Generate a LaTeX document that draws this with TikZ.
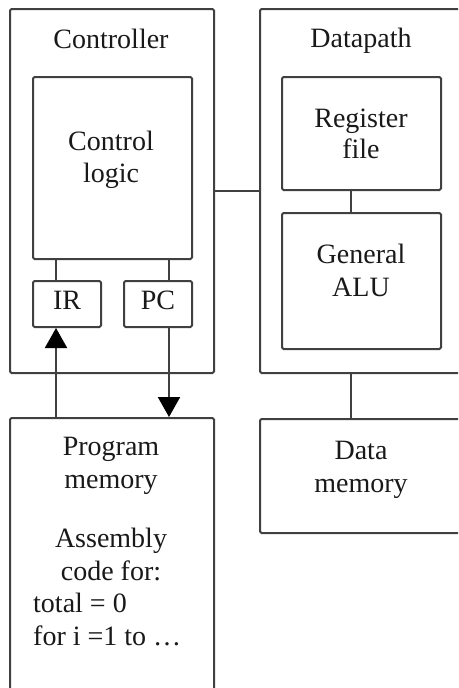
\documentclass[tikz,border=0pt]{standalone}
\usepackage{fontspec}
\setmainfont{Liberation Serif}
\usetikzlibrary{arrows.meta}
\begin{document}
\begin{tikzpicture}[x=1pt,y=-1pt,
  box/.style={draw=black!75, line width=2pt, rounded corners=1.5pt, inner sep=0pt},
  wire/.style={draw=black!75, line width=2pt},
  arr/.style={wire, -{Triangle[length=20pt,width=22pt,color=black]}},
  txt/.style={anchor=base, inner sep=0pt, text=black!90, font=\fontsize{28}{33}\selectfont},
  ltxt/.style={txt, anchor=base west}]
\useasboundingbox (0,0) rectangle (458,688);
\clip (0,0) rectangle (458,688);
\fill[white] (0,0) rectangle (458,688);
% outer boxes
\node[box, minimum width=204pt, minimum height=364pt] (ctrl) at (112,191) {};
\node[box, minimum width=210pt, minimum height=364pt] (dp) at (365,191) {};
\node[box, minimum width=204pt, minimum height=290pt] (pm) at (112,563) {};
\node[box, minimum width=210pt, minimum height=114pt] (dm) at (365,476) {};
% inner boxes
\node[box, minimum width=159pt, minimum height=182pt] (cl) at (112.5,168) {};
\node[box, minimum width=68pt, minimum height=46pt] (ir) at (67,304) {};
\node[box, minimum width=68pt, minimum height=46pt] (pc) at (158,304) {};
\node[box, minimum width=159pt, minimum height=113pt] (rf) at (361.5,133.5) {};
\node[box, minimum width=159pt, minimum height=136pt] (alu) at (361.5,281) {};
% texts
\node[txt] (ctrlT) at (111,48) {Controller};
\node[txt] (dpT) at (361,47) {Datapath};
\node[txt] (clA) at (111,150) {Control};
\node[txt] (clB) at (111,182) {logic};
\node[txt] (irT) at (67,309) {IR};
\node[txt] (pcT) at (158,309) {PC};
\node[txt] (rfA) at (361,127) {Register};
\node[txt] (rfB) at (361,158) {file};
\node[txt] (aluA) at (361,263) {General};
\node[txt] (aluB) at (361,296) {ALU};
\node[txt] (dmA) at (361,459) {Data};
\node[txt] (dmB) at (361,492) {memory};
\node[txt] (pmA) at (111,455) {Program};
\node[txt] (pmB) at (111,488) {memory};
\node[txt] (pmC) at (111,547) {Assembly};
\node[txt] (pmD) at (111,580) {code for:};
\node[ltxt] (pmE) at (33,612) {total = 0};
\node[ltxt] (pmF) at (33,645) {for i =1 to \ldots};
% connector columns
\coordinate (xa) at (56,0);
\coordinate (xb) at (169,0);
\coordinate (xc) at (351,0);
% connectors
\draw[wire] (cl.south -| xa) -- (ir.north -| xa);
\draw[wire] (cl.south -| xb) -- (pc.north -| xb);
\draw[wire] (ctrl.east) -- (dp.west);
\draw[wire] (rf.south -| xc) -- (alu.north -| xc);
\draw[wire] (dp.south -| xc) -- (dm.north -| xc);
\draw[arr] (pm.north -| xa) -- (ir.south -| xa);
\draw[arr] (pc.south -| xb) -- (pm.north -| xb);
\end{tikzpicture}
\end{document}
